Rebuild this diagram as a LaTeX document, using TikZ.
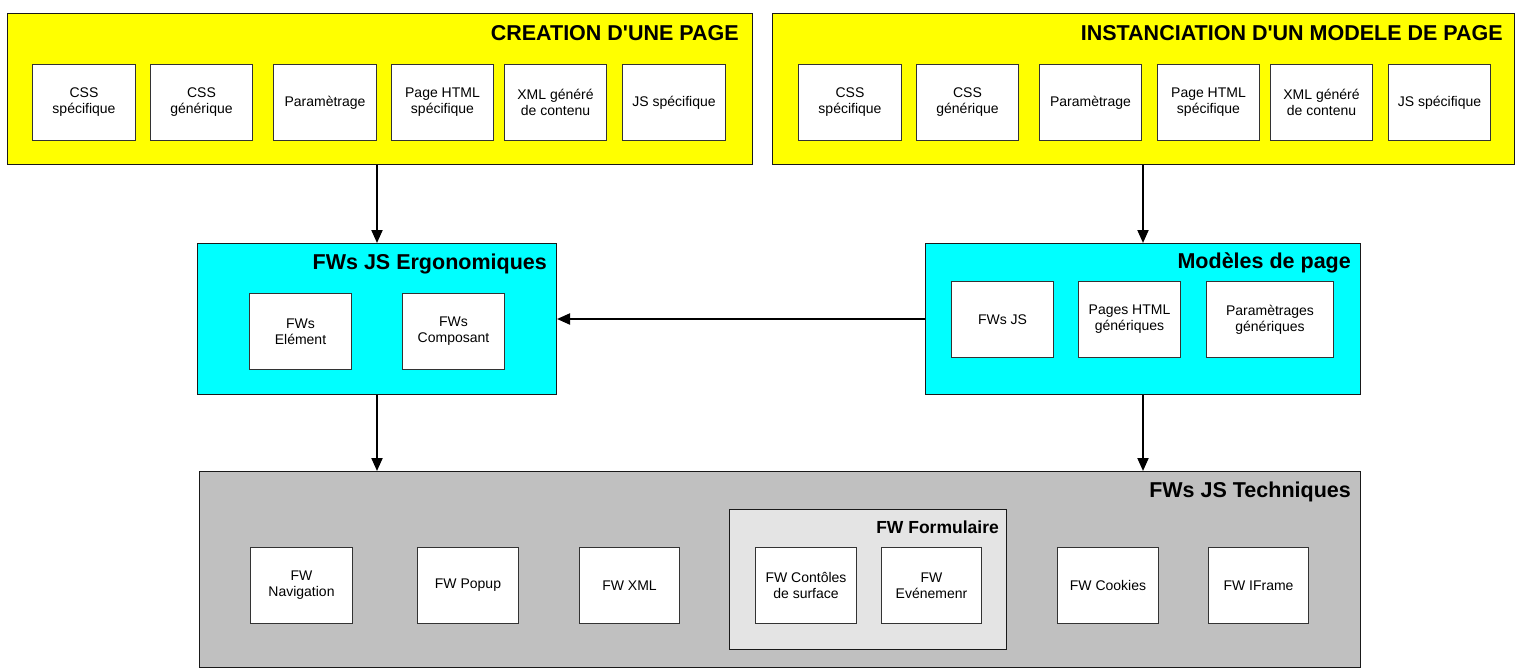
\documentclass[tikz,border=0pt]{standalone}
\usepackage{fontspec}
\setmainfont{Liberation Sans}[Ligatures=TeXOff]
\usetikzlibrary{arrows.meta}
\definecolor{panelyellow}{HTML}{FFFF00}
\definecolor{panelcyan}{HTML}{00FFFF}
\definecolor{panelgray}{HTML}{C0C0C0}
\definecolor{subgray}{HTML}{E4E4E4}
\begin{document}
\begin{tikzpicture}[x=1pt,y=-1pt,
  panel/.style={draw=black!90, line width=1pt, fill=#1, anchor=north west, inner sep=0pt},
  item/.style={draw=black!80, line width=1pt, fill=white, anchor=north west, inner sep=0pt,
    align=center, font=\fontsize{14}{16}\selectfont, minimum height=76pt},
  title/.style={anchor=base east, inner sep=0pt, font=\fontsize{21.5}{24}\selectfont\bfseries},
  subtitle/.style={anchor=base east, inner sep=0pt, font=\fontsize{17.5}{20}\selectfont\bfseries},
  arr/.style={line width=2pt, -{Triangle[length=13pt,width=11pt]}}]
\useasboundingbox (0,0) rectangle (1519,670);

% creation d'une page
\node[panel=panelyellow, minimum width=745pt, minimum height=151pt] (crea) at (7,13) {};
\node[title] (creaT) at (739,40) {CREATION D'UNE PAGE};
\node[item, minimum width=103pt] (c1) at (32,64) {CSS\\spécifique};
\node[item, minimum width=102pt] (c2) at (150,64) {CSS\\générique};
\node[item, minimum width=103pt] (c3) at (273,64) {Paramètrage};
\node[item, minimum width=102pt] (c4) at (391,64) {Page HTML\\spécifique};
\node[item, minimum width=102pt] (c5) at (504,64) {XML généré\\de contenu};
\node[item, minimum width=103pt] (c6) at (622,64) {JS spécifique};

% instanciation d'un modele de page
\node[panel=panelyellow, minimum width=742pt, minimum height=151pt] (inst) at (772,13) {};
\node[title] (instT) at (1503,40) {INSTANCIATION D'UN MODELE DE PAGE};
\node[item, minimum width=103pt] (i1) at (798,64) {CSS\\spécifique};
\node[item, minimum width=102pt] (i2) at (916,64) {CSS\\générique};
\node[item, minimum width=102pt] (i3) at (1039,64) {Paramètrage};
\node[item, minimum width=102pt] (i4) at (1157,64) {Page HTML\\spécifique};
\node[item, minimum width=102pt] (i5) at (1270,64) {XML généré\\de contenu};
\node[item, minimum width=102pt] (i6) at (1388,64) {JS spécifique};

% FWs JS ergonomiques
\node[panel=panelcyan, minimum width=359pt, minimum height=151pt] (ergo) at (197,243) {};
\node[title] (ergoT) at (547,269) {FWs JS Ergonomiques};
\node[item, minimum width=102pt] (e1) at (249,293) {FWs\\Elément};
\node[item, minimum width=102pt] (e2) at (402,293) {FWs\\Composant};

% modeles de page
\node[panel=panelcyan, minimum width=435pt, minimum height=151pt] (mod) at (925,243) {};
\node[title] (modT) at (1351,268) {Modèles de page};
\node[item, minimum width=102pt] (m1) at (951,281) {FWs JS};
\node[item, minimum width=102pt] (m2) at (1078,281) {Pages HTML\\génériques};
\node[item, minimum width=127pt] (m3) at (1206,281) {Paramètrages\\génériques};

% FWs JS techniques
\node[panel=panelgray, minimum width=1161pt, minimum height=196pt] (tech) at (199,471) {};
\node[title] (techT) at (1351,497) {FWs JS Techniques};
\node[panel=subgray, minimum width=277pt, minimum height=140pt] (form) at (729,509) {};
\node[subtitle] (formT) at (999,533) {FW Formulaire};
\node[item, minimum width=102pt] (t1) at (250,547) {FW\\Navigation};
\node[item, minimum width=101pt] (t2) at (417,547) {FW Popup};
\node[item, minimum width=100pt] (t3) at (579,547) {FW XML};
\node[item, minimum width=101pt] (t4) at (755,547) {FW Contôles\\de surface};
\node[item, minimum width=100pt] (t5) at (881,547) {FW\\Evénemenr};
\node[item, minimum width=101pt] (t6) at (1057,547) {FW Cookies};
\node[item, minimum width=100pt] (t7) at (1208,547) {FW IFrame};

% dependencies
\draw[arr] (crea.south -| ergo.north) -- (ergo.north);
\draw[arr] (inst.south -| mod.north) -- (mod.north);
\draw[arr] (mod.west) -- (ergo.east);
\draw[arr] (ergo.south) -- (ergo.south |- tech.north);
\draw[arr] (mod.south) -- (mod.south |- tech.north);
\end{tikzpicture}
\end{document}
